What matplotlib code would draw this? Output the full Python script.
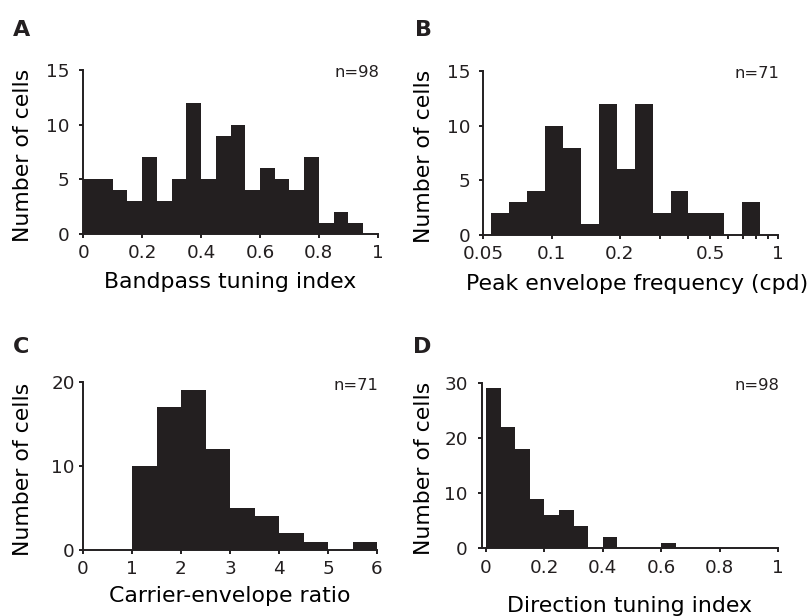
import numpy as np
import matplotlib
matplotlib.use("Agg")
import matplotlib.pyplot as plt

plt.rcParams['font.family'] = ['DejaVu Sans']

# histogram counts
bandpass_counts = [5, 5, 4, 3, 7, 3, 5, 12, 5, 9, 10, 4, 6, 5, 4, 7, 1, 2, 1, 0]
peak_freq_counts = [2, 3, 4, 10, 8, 1, 12, 6, 12, 2, 4, 2, 2, 0, 3, 0]
ce_ratio_counts = [0, 0, 10, 17, 19, 12, 5, 4, 2, 1, 0, 1]
direction_counts = [29, 22, 18, 9, 6, 7, 4, 0, 2, 0, 0, 0, 1, 0, 0, 0, 0, 0, 0, 0]

# bin edges
bandpass_edges = np.linspace(0, 1, 21)
peak_freq_edges = np.logspace(np.log10(0.054), 0, 17)
ce_ratio_edges = np.linspace(0, 6, 13)
direction_edges = np.linspace(0, 1, 21)

n_labels = ['n=98', 'n=71', 'n=71', 'n=98']

BAR = '#231f20'
LW = 1.4
TICK_FS = 13.2
LABEL_FS = 15.8

fig = plt.figure(figsize=(8.11, 6.16), dpi=100)

W, H = 811, 616
def axes_px(x0, x1, ytop, ybot):
    return fig.add_axes([x0 / W, (H - ybot) / H, (x1 - x0) / W, (ybot - ytop) / H])

axA = axes_px(83.3, 377.7, 70, 234)
axB = axes_px(483.3, 778.3, 71, 235)
axC = axes_px(83.0, 377.0, 382, 550)
axD = axes_px(481.7, 778.0, 382.5, 548.3)

def style(ax, ypad):
    for s in ['top', 'right']:
        ax.spines[s].set_visible(False)
    for s in ['left', 'bottom']:
        ax.spines[s].set_linewidth(LW)
        ax.spines[s].set_color('#231f20')
    ax.tick_params(axis='both', which='both', direction='out', length=3,
                   width=LW, color='#231f20', labelsize=TICK_FS, labelcolor='#231f20')
    ax.tick_params(axis='x', which='both', pad=4.5)
    ax.tick_params(axis='y', pad=ypad)

# A
axA.stairs(bandpass_counts, bandpass_edges, fill=True, color=BAR, linewidth=0)
axA.set_xlim(0, 1)
axA.set_ylim(0, 15)
axA.set_xticks([0, 0.2, 0.4, 0.6, 0.8, 1])
axA.set_xticklabels(['0', '0.2', '0.4', '0.6', '0.8', '1'])
axA.set_yticks([0, 5, 10, 15])
style(axA, 7)
axA.set_xlabel('Bandpass tuning index', fontsize=LABEL_FS, va='baseline')
axA.xaxis.set_label_coords(0.5, -0.331)

# B
axB.stairs(peak_freq_counts, peak_freq_edges, fill=True, color=BAR, linewidth=0)
axB.set_xscale('log')
axB.set_xlim(0.05, 1)
axB.set_ylim(0, 15)
axB.set_xticks([0.05, 0.1, 0.2, 0.5, 1])
axB.set_xticklabels(['0.05', '0.1', '0.2', '0.5', '1'])
axB.set_xticks([0.3, 0.4, 0.6, 0.7, 0.8, 0.9], minor=True)
axB.set_xticklabels([], minor=True)
axB.set_yticks([0, 5, 10, 15])
style(axB, 6.5)
axB.set_xlabel('Peak envelope frequency (cpd)', fontsize=LABEL_FS, va='baseline')
axB.xaxis.set_label_coords(0.52, -0.335)

# C
axC.stairs(ce_ratio_counts, ce_ratio_edges, fill=True, color=BAR, linewidth=0)
axC.set_xlim(0, 6)
axC.set_ylim(0, 20)
axC.set_xticks(range(7))
axC.set_yticks([0, 10, 20])
style(axC, 3)
axC.set_xlabel('Carrier-envelope ratio', fontsize=LABEL_FS, va='baseline')
axC.xaxis.set_label_coords(0.5, -0.308)

# D
axD.stairs(direction_counts, direction_edges, fill=True, color=BAR, linewidth=0)
axD.set_xlim(-0.015, 1)
axD.set_ylim(0, 30)
axD.set_xticks([0, 0.2, 0.4, 0.6, 0.8, 1])
axD.set_xticklabels(['0', '0.2', '0.4', '0.6', '0.8', '1'])
axD.set_yticks([0, 10, 20, 30])
style(axD, 7)
axD.set_xlabel('Direction tuning index', fontsize=LABEL_FS, va='baseline')
axD.xaxis.set_label_coords(0.5, -0.382)

ylab_x = [-0.205, -0.201, -0.204, -0.195]
for ax, lx, nl in zip([axA, axB, axC, axD], ylab_x, n_labels):
    ax.set_ylabel('Number of cells', fontsize=LABEL_FS, va='center', ha='center')
    ax.yaxis.set_label_coords(lx, 0.48)
    ax.text(1.005, 0.955, nl, transform=ax.transAxes, ha='right', va='baseline',
            fontsize=11.8, color='#231f20')

# panel letters
for letter, x, y in [('A', 13, 36), ('B', 415, 36), ('C', 13, 353), ('D', 413, 353)]:
    fig.text(x / W, 1 - y / H, letter, fontsize=16, fontweight='bold',
             ha='left', va='baseline', color='#231f20')

fig.savefig('out.png', dpi=100)
